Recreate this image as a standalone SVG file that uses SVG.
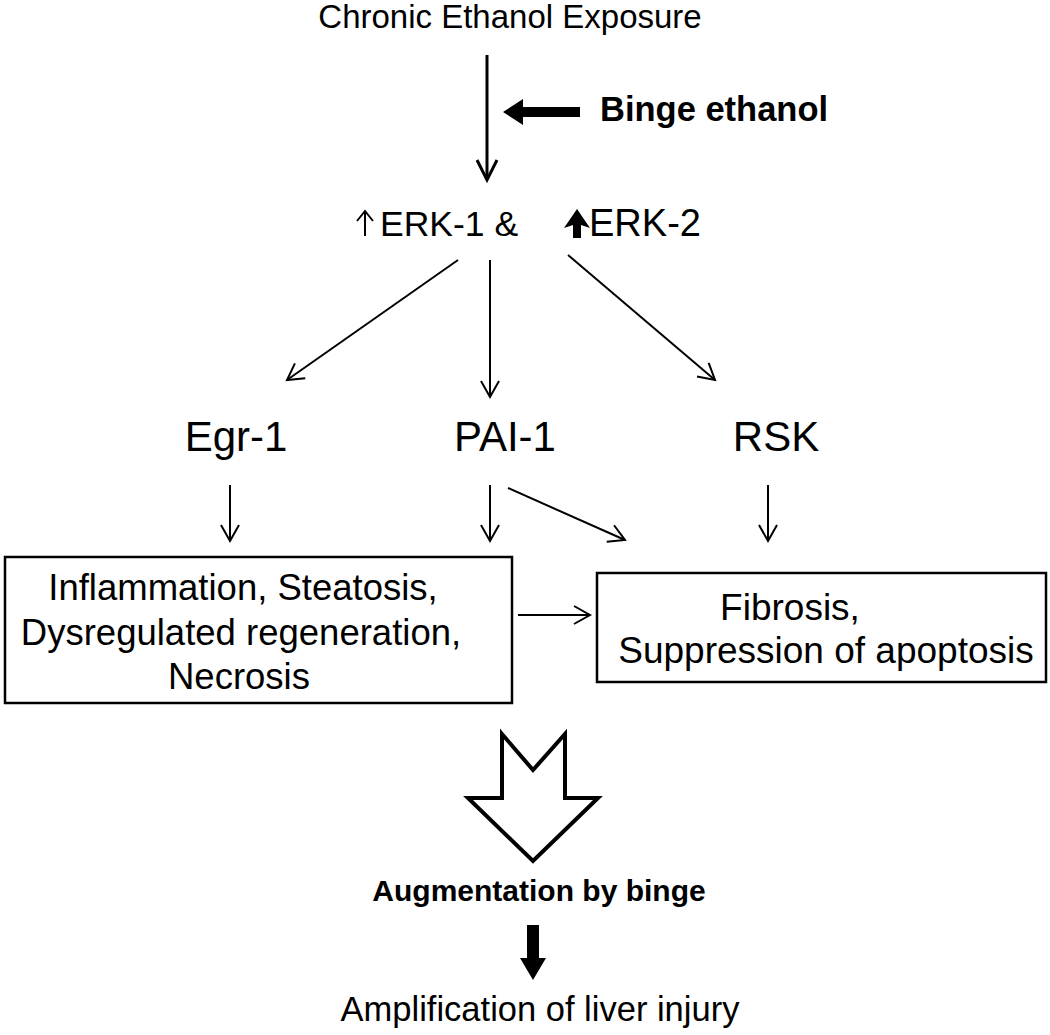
<svg xmlns="http://www.w3.org/2000/svg" width="1050" height="1035" viewBox="0 0 1050 1035">
<style>
text{font-family:"Liberation Sans",Arial,sans-serif;fill:#000}
.b{font-weight:bold}
.ln{stroke:#000;stroke-width:2;fill:none}
.box{stroke:#000;stroke-width:2.5;fill:#fff}
</style>
<defs>
<marker id="ah" markerUnits="userSpaceOnUse" markerWidth="24" markerHeight="24" viewBox="-20 -12 24 24" refX="0" refY="0" orient="auto">
<path d="M-16,-9 L0,0 L-16,9" fill="none" stroke="#000" stroke-width="2"/>
</marker>
<marker id="ahb" markerUnits="userSpaceOnUse" markerWidth="30" markerHeight="30" viewBox="-25 -15 30 30" refX="0" refY="0" orient="auto">
<path d="M-20,-10 L0,0 L-20,10" fill="none" stroke="#000" stroke-width="3"/>
</marker>
</defs>
<rect width="1050" height="1035" fill="#fff"/>
<g id="chronic"><text x="510" y="28" font-size="33" text-anchor="middle">Chronic Ethanol Exposure</text></g>
<g id="binge"><text x="600" y="121" font-size="34.5" class="b">Binge ethanol</text></g>
<g id="erk">
<text x="380" y="236" font-size="35.5">ERK-1 &amp;</text>
<text x="589" y="236" font-size="38">ERK-2</text>
<path d="M365,236 L365,211 M357,221 L365,211 L373,221" class="ln"/>
<polygon points="577,209 590,228 581,225 581,238 573,238 573,225 564,228" fill="#000"/>
</g>
<g id="egr1"><text x="236" y="451" font-size="42" text-anchor="middle">Egr-1</text></g>
<g id="pai1"><text x="505" y="451" font-size="42" text-anchor="middle">PAI-1</text></g>
<g id="rsk"><text x="776" y="451" font-size="42" text-anchor="middle">RSK</text></g>
<g id="box1">
<rect x="5" y="557" width="507" height="146" class="box"/>
<text font-size="36.5" text-anchor="middle"><tspan x="243" y="600">Inflammation, Steatosis,</tspan><tspan x="241" y="645">Dysregulated regeneration,</tspan><tspan x="239" y="689">Necrosis</tspan></text>
</g>
<g id="box2">
<rect x="597" y="573" width="449" height="109" class="box"/>
<text font-size="37" text-anchor="middle"><tspan x="790" y="620">Fibrosis,</tspan><tspan x="826" y="663">Suppression of apoptosis</tspan></text>
</g>
<g id="augment">
<polygon points="502,734 533,770 565,734 565,798 598,798 533,861 468,798 502,798" fill="#fff" stroke="#000" stroke-width="4" stroke-linejoin="miter"/>
<text x="539" y="901" font-size="30" class="b" text-anchor="middle">Augmentation by binge</text>
</g>
<g id="amplification"><text x="540" y="1021" font-size="34.5" text-anchor="middle">Amplification of liver injury</text></g>
<g id="connectors">
<line x1="487" y1="55" x2="487" y2="180" class="ln" style="stroke-width:3" marker-end="url(#ahb)"/>
<polygon points="503,112 523,99 523,107 580,107 580,117 523,117 523,125" fill="#000"/>
<line x1="458" y1="260" x2="287" y2="380" class="ln" marker-end="url(#ah)"/>
<line x1="490" y1="260" x2="490" y2="397" class="ln" marker-end="url(#ah)"/>
<line x1="568" y1="255" x2="715" y2="380" class="ln" marker-end="url(#ah)"/>
<line x1="230" y1="485" x2="230" y2="541" class="ln" marker-end="url(#ah)"/>
<line x1="490" y1="485" x2="490" y2="541" class="ln" marker-end="url(#ah)"/>
<line x1="508" y1="488" x2="625" y2="540" class="ln" marker-end="url(#ah)"/>
<line x1="768" y1="485" x2="768" y2="541" class="ln" marker-end="url(#ah)"/>
<line x1="518" y1="615" x2="590" y2="615" class="ln" marker-end="url(#ah)"/>
<polygon points="527,925 539,925 539,958 546,958 533,980 520,958 527,958" fill="#000"/>
</g>
</svg>
